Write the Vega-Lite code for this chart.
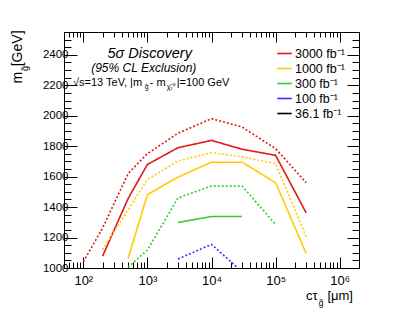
{
  "$schema": "https://vega.github.io/schema/vega-lite/v6.json",
  "width": 295,
  "height": 236,
  "autosize": "none",
  "padding": {"left": 64, "top": 32, "right": 40, "bottom": 48},
  "background": "white",
  "config": {
    "font": "Liberation Sans",
    "view": {"stroke": "black", "strokeWidth": 1},
    "axis": {"domainColor": "black", "tickColor": "black", "labelColor": "black", "grid": false, "labelFont": "Liberation Sans", "title": null}
  },
  "datasets": {
    "lines": [
      {"lumi": "3000 fb⁻¹", "kind": "Discovery", "ctau": 200, "mass": 1078},
      {"lumi": "3000 fb⁻¹", "kind": "Discovery", "ctau": 500, "mass": 1456},
      {"lumi": "3000 fb⁻¹", "kind": "Discovery", "ctau": 1000, "mass": 1680},
      {"lumi": "3000 fb⁻¹", "kind": "Discovery", "ctau": 3000, "mass": 1790},
      {"lumi": "3000 fb⁻¹", "kind": "Discovery", "ctau": 10000, "mass": 1838},
      {"lumi": "3000 fb⁻¹", "kind": "Discovery", "ctau": 30000, "mass": 1780},
      {"lumi": "3000 fb⁻¹", "kind": "Discovery", "ctau": 100000, "mass": 1740},
      {"lumi": "3000 fb⁻¹", "kind": "Discovery", "ctau": 300000, "mass": 1362},
      {"lumi": "3000 fb⁻¹", "kind": "Exclusion", "ctau": 100, "mass": 1041},
      {"lumi": "3000 fb⁻¹", "kind": "Exclusion", "ctau": 200, "mass": 1262},
      {"lumi": "3000 fb⁻¹", "kind": "Exclusion", "ctau": 500, "mass": 1620},
      {"lumi": "3000 fb⁻¹", "kind": "Exclusion", "ctau": 1000, "mass": 1751},
      {"lumi": "3000 fb⁻¹", "kind": "Exclusion", "ctau": 3000, "mass": 1885},
      {"lumi": "3000 fb⁻¹", "kind": "Exclusion", "ctau": 10000, "mass": 1981},
      {"lumi": "3000 fb⁻¹", "kind": "Exclusion", "ctau": 30000, "mass": 1926},
      {"lumi": "3000 fb⁻¹", "kind": "Exclusion", "ctau": 100000, "mass": 1784},
      {"lumi": "3000 fb⁻¹", "kind": "Exclusion", "ctau": 300000, "mass": 1560},
      {"lumi": "1000 fb⁻¹", "kind": "Discovery", "ctau": 500, "mass": 1063},
      {"lumi": "1000 fb⁻¹", "kind": "Discovery", "ctau": 1000, "mass": 1482},
      {"lumi": "1000 fb⁻¹", "kind": "Discovery", "ctau": 3000, "mass": 1597},
      {"lumi": "1000 fb⁻¹", "kind": "Discovery", "ctau": 10000, "mass": 1695},
      {"lumi": "1000 fb⁻¹", "kind": "Discovery", "ctau": 30000, "mass": 1695},
      {"lumi": "1000 fb⁻¹", "kind": "Discovery", "ctau": 100000, "mass": 1560},
      {"lumi": "1000 fb⁻¹", "kind": "Discovery", "ctau": 300000, "mass": 1096},
      {"lumi": "1000 fb⁻¹", "kind": "Exclusion", "ctau": 200, "mass": 1120},
      {"lumi": "1000 fb⁻¹", "kind": "Exclusion", "ctau": 1000, "mass": 1581},
      {"lumi": "1000 fb⁻¹", "kind": "Exclusion", "ctau": 3000, "mass": 1703},
      {"lumi": "1000 fb⁻¹", "kind": "Exclusion", "ctau": 10000, "mass": 1758},
      {"lumi": "1000 fb⁻¹", "kind": "Exclusion", "ctau": 30000, "mass": 1730},
      {"lumi": "1000 fb⁻¹", "kind": "Exclusion", "ctau": 100000, "mass": 1685},
      {"lumi": "1000 fb⁻¹", "kind": "Exclusion", "ctau": 300000, "mass": 1205},
      {"lumi": "300 fb⁻¹", "kind": "Discovery", "ctau": 3000, "mass": 1299},
      {"lumi": "300 fb⁻¹", "kind": "Discovery", "ctau": 10000, "mass": 1338},
      {"lumi": "300 fb⁻¹", "kind": "Discovery", "ctau": 30000, "mass": 1338},
      {"lumi": "300 fb⁻¹", "kind": "Exclusion", "ctau": 500, "mass": 1005},
      {"lumi": "300 fb⁻¹", "kind": "Exclusion", "ctau": 1000, "mass": 1118},
      {"lumi": "300 fb⁻¹", "kind": "Exclusion", "ctau": 3000, "mass": 1460},
      {"lumi": "300 fb⁻¹", "kind": "Exclusion", "ctau": 10000, "mass": 1538},
      {"lumi": "300 fb⁻¹", "kind": "Exclusion", "ctau": 30000, "mass": 1538},
      {"lumi": "300 fb⁻¹", "kind": "Exclusion", "ctau": 100000, "mass": 1286},
      {"lumi": "100 fb⁻¹", "kind": "Exclusion", "ctau": 3000, "mass": 1059},
      {"lumi": "100 fb⁻¹", "kind": "Exclusion", "ctau": 10000, "mass": 1155},
      {"lumi": "100 fb⁻¹", "kind": "Exclusion", "ctau": 30000, "mass": 975}
    ]
  },
  "layer": [
    {
      "data": {"name": "lines"},
      "mark": {"type": "line", "clip": true, "strokeWidth": 1.6},
      "encoding": {
        "x": {
          "field": "ctau", "type": "quantitative",
          "scale": {"type": "log", "domain": [50, 2000000], "nice": false},
          "axis": {
            "orient": "bottom",
            "values": [60,70,80,90,100,200,300,400,500,600,700,800,900,1000,2000,3000,4000,5000,6000,7000,8000,9000,10000,20000,30000,40000,50000,60000,70000,80000,90000,100000,200000,300000,400000,500000,600000,700000,800000,900000,1000000],
            "labelExpr": "datum.value==100?'10²':datum.value==1000?'10³':datum.value==10000?'10⁴':datum.value==100000?'10⁵':datum.value==1000000?'10⁶':''",
            "tickSize": {"condition": {"test": "indexof([100,1000,10000,100000,1000000], datum.value) >= 0", "value": -11}, "value": -6},
            "labelPadding": 17,
            "labelFontSize": 13,
            "labelFlush": false,
            "labelOverlap": false,
            "title": null
          }
        },
        "y": {
          "field": "mass", "type": "quantitative",
          "scale": {"domain": [1000, 2550], "nice": false, "zero": false},
          "axis": {
            "orient": "left",
            "values": [1000,1050,1100,1150,1200,1250,1300,1350,1400,1450,1500,1550,1600,1650,1700,1750,1800,1850,1900,1950,2000,2050,2100,2150,2200,2250,2300,2350,2400,2450,2500],
            "labelExpr": "datum.value % 200 == 0 ? datum.value : ''",
            "tickSize": {"condition": {"test": "datum.value % 200 == 0", "value": -13}, "value": -7},
            "labelPadding": 9,
            "labelFontSize": 11.5,
            "labelFlush": false,
            "labelOverlap": false,
            "title": null
          }
        },
        "color": {
          "field": "lumi", "type": "nominal",
          "scale": {"domain": ["3000 fb⁻¹", "1000 fb⁻¹", "300 fb⁻¹", "100 fb⁻¹", "36.1 fb⁻¹"], "range": ["#e01818", "#ffcc00", "#33cc33", "#3333ff", "#000000"]},
          "legend": {
            "orient": "none", "legendX": 212, "legendY": 13, "title": null, "padding": 0,
            "symbolType": "stroke", "symbolSize": 210, "symbolStrokeWidth": 1.6,
            "labelFontSize": 12.5, "labelFont": "Liberation Sans", "labelColor": "black",
            "labelOffset": 2, "rowPadding": 0
          }
        },
        "strokeDash": {
          "field": "kind", "type": "nominal",
          "scale": {"domain": ["Discovery", "Exclusion"], "range": [[1, 0], [2, 2]]},
          "legend": null
        }
      }
    },
    {
      "data": {"values": [{}]},
      "mark": {"type": "text", "fontSize": 14.5, "fontStyle": "italic", "align": "center", "baseline": "middle", "font": "Liberation Sans"},
      "encoding": {
        "x": {"datum": 1086, "type": "quantitative", "axis": {
          "orient": "top",
          "values": [60,70,80,90,100,200,300,400,500,600,700,800,900,1000,2000,3000,4000,5000,6000,7000,8000,9000,10000,20000,30000,40000,50000,60000,70000,80000,90000,100000,200000,300000,400000,500000,600000,700000,800000,900000,1000000],
          "labels": false,
          "tickSize": {"condition": {"test": "indexof([100,1000,10000,100000,1000000], datum.value) >= 0", "value": -10}, "value": -5},
          "title": null
        }},
        "y": {"datum": 2405, "type": "quantitative", "axis": {
          "orient": "right",
          "values": [1000,1050,1100,1150,1200,1250,1300,1350,1400,1450,1500,1550,1600,1650,1700,1750,1800,1850,1900,1950,2000,2050,2100,2150,2200,2250,2300,2350,2400,2450,2500],
          "labels": false,
          "tickSize": {"condition": {"test": "datum.value % 200 == 0", "value": -12}, "value": -7},
          "title": null
        }},
        "text": {"value": "5σ Discovery"}
      }
    },
    {
      "data": {"values": [{}]},
      "mark": {"type": "text", "fontSize": 12, "fontStyle": "italic", "align": "center", "baseline": "middle", "font": "Liberation Sans"},
      "encoding": {
        "x": {"datum": 877, "type": "quantitative", "axis": null},
        "y": {"datum": 2313, "type": "quantitative", "axis": null},
        "text": {"value": "(95% CL Exclusion)"}
      }
    },
    {
      "data": {"values": [{}]},
      "mark": {"type": "text", "fontSize": 11, "align": "left", "baseline": "middle", "font": "Liberation Sans"},
      "encoding": {
        "x": {"datum": 69, "type": "quantitative", "axis": null},
        "y": {"datum": 2216, "type": "quantitative", "axis": null},
        "text": {"value": "√s=13 TeV, |m"}
      }
    },
    {
      "data": {"values": [{}]},
      "mark": {"type": "text", "fontSize": 11, "align": "left", "baseline": "middle", "font": "Liberation Sans"},
      "encoding": {
        "x": {"datum": 1086, "type": "quantitative", "axis": null},
        "y": {"datum": 2216, "type": "quantitative", "axis": null},
        "text": {"value": "- m"}
      }
    },
    {
      "data": {"values": [{}]},
      "mark": {"type": "text", "fontSize": 11, "align": "left", "baseline": "middle", "font": "Liberation Sans"},
      "encoding": {
        "x": {"datum": 2858, "type": "quantitative", "axis": null},
        "y": {"datum": 2216, "type": "quantitative", "axis": null},
        "text": {"value": "|=100 GeV"}
      }
    },
    {
      "data": {"values": [{}]},
      "mark": {"type": "text", "fontSize": 7, "align": "left", "baseline": "middle", "font": "Liberation Sans"},
      "encoding": {
        "x": {"datum": 908, "type": "quantitative", "axis": null},
        "y": {"datum": 2189, "type": "quantitative", "axis": null},
        "text": {"value": "g̃"}
      }
    },
    {
      "data": {"values": [{}]},
      "mark": {"type": "text", "fontSize": 7, "align": "left", "baseline": "middle", "font": "Liberation Sans"},
      "encoding": {
        "x": {"datum": 1995, "type": "quantitative", "axis": null},
        "y": {"datum": 2189, "type": "quantitative", "axis": null},
        "text": {"value": "χ̃₁⁰"}
      }
    },
    {
      "data": {"values": [{}]},
      "mark": {"type": "text", "fontSize": 14, "align": "left", "baseline": "middle", "angle": 270, "font": "Liberation Sans", "clip": false},
      "encoding": {
        "x": {"datum": 9.6, "type": "quantitative", "axis": null},
        "y": {"datum": 2212, "type": "quantitative", "axis": null},
        "text": {"value": "m"}
      }
    },
    {
      "data": {"values": [{}]},
      "mark": {"type": "text", "fontSize": 9, "align": "center", "baseline": "middle", "angle": 270, "font": "Liberation Sans", "clip": false},
      "encoding": {
        "x": {"datum": 12.4, "type": "quantitative", "axis": null},
        "y": {"datum": 2310, "type": "quantitative", "axis": null},
        "text": {"value": "g̃"}
      }
    },
    {
      "data": {"values": [{}]},
      "mark": {"type": "text", "fontSize": 14, "align": "right", "baseline": "middle", "angle": 270, "font": "Liberation Sans", "clip": false},
      "encoding": {
        "x": {"datum": 9.6, "type": "quantitative", "axis": null},
        "y": {"datum": 2560, "type": "quantitative", "axis": null},
        "text": {"value": "[GeV]"}
      }
    },
    {
      "data": {"values": [{}]},
      "mark": {"type": "text", "fontSize": 13, "align": "left", "baseline": "alphabetic", "font": "Liberation Sans", "clip": false},
      "encoding": {
        "x": {"datum": 299000, "type": "quantitative", "axis": null},
        "y": {"datum": 790, "type": "quantitative", "axis": null},
        "text": {"value": "cτ"}
      }
    },
    {
      "data": {"values": [{}]},
      "mark": {"type": "text", "fontSize": 8.5, "align": "left", "baseline": "alphabetic", "font": "Liberation Sans", "clip": false},
      "encoding": {
        "x": {"datum": 470000, "type": "quantitative", "axis": null},
        "y": {"datum": 750, "type": "quantitative", "axis": null},
        "text": {"value": "g̃"}
      }
    },
    {
      "data": {"values": [{}]},
      "mark": {"type": "text", "fontSize": 13, "align": "right", "baseline": "alphabetic", "font": "Liberation Sans", "clip": false},
      "encoding": {
        "x": {"datum": 1610000, "type": "quantitative", "axis": null},
        "y": {"datum": 790, "type": "quantitative", "axis": null},
        "text": {"value": "[μm]"}
      }
    }
  ],
  "resolve": {"axis": {"x": "independent", "y": "independent"}}
}
